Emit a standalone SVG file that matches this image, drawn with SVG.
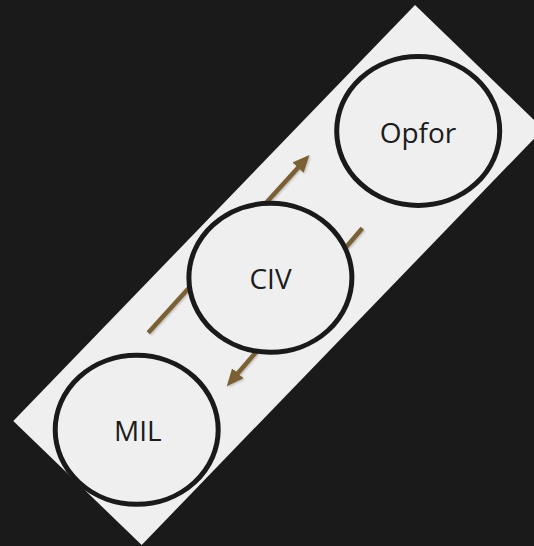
<svg xmlns="http://www.w3.org/2000/svg" width="534" height="546" viewBox="0 0 534 546">
  <style>
    .node { fill: #efefef; stroke: #1a1a1a; stroke-width: 5; }
    .label { font-family: "Open Sans", "Liberation Sans", sans-serif; font-size: 28px; fill: #1c1c1c; text-anchor: middle; }
    .conn { stroke: #7a6132; stroke-width: 4.5; fill: none; stroke-linecap: butt; }
  </style>
  <defs>
    <marker id="head" markerUnits="userSpaceOnUse" markerWidth="18" markerHeight="16" refX="1" refY="7.5" orient="auto">
      <path d="M0,0 L17,7.5 L0,15 z" fill="#7a6132"/>
    </marker>
    <filter id="shadow" x="-10%" y="-10%" width="120%" height="120%">
      <feDropShadow dx="1" dy="1" stdDeviation="1" flood-color="#000" flood-opacity="0.25"/>
    </filter>
  </defs>
  <rect width="534" height="546" fill="#1a1a1a"/>
  <rect id="panel" x="-289.15" y="-89.25" width="578.3" height="178.5" fill="#efefef" transform="translate(278.35 275) rotate(-46)"/>
  <g id="connectors" filter="url(#shadow)">
    <line class="conn" x1="148.3" y1="332.7" x2="298.7" y2="166.9" marker-end="url(#head)"/>
    <line class="conn" x1="362.3" y1="228.3" x2="237.2" y2="374.0" marker-end="url(#head)"/>
  </g>
  <g id="node-opfor">
    <ellipse class="node" cx="418.2" cy="131" rx="81.5" ry="74.5"/>
    <text class="label" x="418" y="142.5">Opfor</text>
  </g>
  <g id="node-civ">
    <ellipse class="node" cx="270.4" cy="277.8" rx="81.5" ry="74.5"/>
    <text class="label" x="270.5" y="289.3">CIV</text>
  </g>
  <g id="node-mil">
    <ellipse class="node" cx="136.7" cy="429.8" rx="81.5" ry="74.5"/>
    <text class="label" x="137.9" y="441">MIL</text>
  </g>
</svg>
